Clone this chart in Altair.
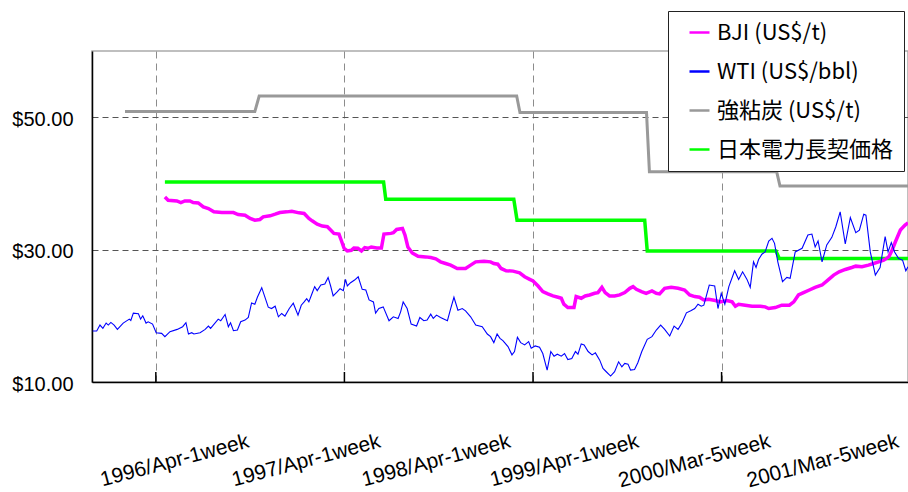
import altair as alt
import pandas as pd

# ---- data (weeks counted from the first WTI observation, late 1995) ----
wti_week = [0.2, 1.3, 2.2, 3.0, 3.9, 4.5, 5.2, 6.1, 7.0, 8.6, 10.3, 10.7, 11.4, 12.8, 13.4, 14.0, 14.9, 15.5, 16.7, 17.7,
            19.2, 20.1, 21.5, 23.5, 25.0, 25.9, 26.6, 27.5, 28.1, 29.8, 31.2, 32.1, 32.7, 34.8, 35.5, 36.7, 37.6, 38.2, 39.0, 40.1,
            41.0, 42.2, 43.1, 44.0, 44.9, 45.6, 46.8, 48.6, 49.5, 50.5, 51.4, 52.3, 53.2, 54.4, 55.5, 56.8, 57.7, 58.5, 59.2, 59.8,
            60.7, 61.4, 62.1, 63.1, 64.2, 65.1, 65.8, 66.5, 67.6, 68.4, 69.3, 69.9, 70.4, 71.3, 72.4, 73.4, 74.5, 75.5, 76.4, 77.6,
            78.2, 79.1, 80.3, 81.9, 83.1, 84.4, 85.1, 85.8, 86.9, 88.0, 89.5, 90.4, 91.5, 92.4, 93.4, 94.1, 95.0, 96.1, 98.0, 98.9,
            99.8, 100.9, 102.1, 103.0, 104.4, 105.8, 107.6, 109.0, 109.9, 110.8, 111.7, 112.5, 113.3, 114.7, 115.8, 116.5, 117.3, 118.2, 119.3, 120.4,
            121.1, 122.2, 123.4, 124.3, 125.5, 126.5, 127.4, 128.3, 129.4, 130.3, 131.2, 132.3, 133.3, 134.0, 134.9, 135.7, 136.8, 137.9, 138.8, 140.0,
            140.9, 141.8, 143.0, 144.1, 145.2, 146.1, 146.9, 147.8, 148.5, 149.6, 150.5, 151.6, 153.1, 154.4, 155.6, 156.8, 157.9, 159.3, 160.5, 161.6,
            162.7, 163.9, 165.1, 166.2, 167.1, 168.0, 168.7, 169.1, 170.2, 171.7, 172.6, 173.5, 174.5, 175.6, 177.2, 178.3, 179.4, 180.6, 181.5, 182.4,
            183.1, 183.8, 184.7, 185.6, 186.6, 187.5, 188.2, 189.1, 190.4, 191.6, 192.5, 193.9, 195.8, 197.4, 198.5, 199.4, 200.2, 201.3, 202.6, 204.0,
            205.1, 206.3, 207.7, 209.1, 210.6, 211.6, 212.8, 213.4, 214.6, 216.0, 217.3, 218.7, 219.5, 220.4, 221.3, 222.4, 223.5, 224.4, 225.0]
wti_value = [17.7, 17.7, 18.6, 18.1, 18.9, 18.6, 19.0, 18.6, 17.95, 18.9, 19.5, 19.3, 20.4, 20.3, 19.5, 20.0, 18.9, 19.1, 18.75, 17.45,
             17.35, 16.85, 17.6, 17.95, 18.35, 18.95, 17.25, 17.45, 17.25, 17.45, 17.95, 18.45, 18.1, 19.5, 19.25, 20.2, 18.35, 18.95, 17.75, 17.85,
             19.1, 19.35, 19.75, 21.95, 21.75, 22.8, 24.25, 21.3, 21.1, 21.45, 19.85, 20.35, 19.95, 21.1, 21.9, 20.1, 21.6, 22.1, 22.6, 22.1,
             23.4, 24.4, 23.8, 24.65, 24.8, 25.8, 24.5, 23.0, 23.6, 24.1, 23.8, 25.5, 24.5, 25.0, 25.4, 25.9, 24.0, 23.9, 22.4, 22.1,
             20.4, 21.1, 21.35, 19.25, 19.85, 19.6, 20.6, 22.1, 21.1, 18.75, 18.45, 19.75, 19.25, 19.35, 20.25, 19.6, 20.1, 19.75, 19.25, 21.1,
             22.8, 20.85, 21.1, 20.75, 19.85, 18.6, 18.35, 17.25, 16.85, 15.95, 17.25, 16.6, 16.25, 15.35, 14.1, 14.6, 16.75, 15.95, 15.6, 16.1,
             15.1, 15.45, 15.25, 14.3, 11.8, 14.6, 13.9, 14.2, 13.9, 14.3, 13.4, 13.55, 14.6, 14.2, 15.75, 15.6, 14.6, 14.1, 14.4, 13.3,
             12.05, 11.55, 10.9, 11.55, 13.05, 12.3, 12.8, 12.7, 11.8, 11.9, 12.9, 14.6, 16.45, 16.85, 17.85, 18.6, 17.95, 16.95, 18.45, 17.95,
             18.95, 20.45, 20.75, 21.1, 21.75, 21.45, 21.6, 22.4, 24.65, 24.5, 21.1, 23.4, 21.75, 24.4, 26.8, 25.5, 26.65, 25.5, 24.3, 28.15,
             27.3, 28.5, 29.3, 29.65, 31.3, 31.7, 30.95, 28.15, 25.15, 25.8, 25.65, 29.65, 30.2, 32.2, 32.35, 30.4, 31.3, 28.15, 30.7, 31.85,
             33.45, 35.7, 30.85, 34.85, 32.55, 32.95, 35.35, 35.2, 29.65, 26.15, 27.3, 31.95, 29.65, 31.05, 29.65, 28.65, 28.4, 26.8, 27.4]

bji_week = [20.1, 21.0, 23.4, 24.5, 25.6, 27.0, 27.9, 29.3, 30.7, 32.1, 33.6, 35.8, 39.0, 40.3, 42.2, 43.6, 44.9, 46.3, 47.2, 49.1,
            50.5, 51.8, 53.7, 55.1, 57.1, 58.5, 59.8, 60.7, 62.1, 63.5, 64.9, 65.8, 66.7, 68.1, 68.7, 69.5, 70.4, 71.5, 72.2, 73.3,
            74.3, 75.2, 76.1, 77.0, 78.5, 79.8, 80.5, 82.4, 83.1, 84.0, 85.6, 86.3, 87.1, 88.3, 89.9, 92.0, 93.4, 94.8, 96.1, 97.5,
            98.9, 100.7, 103.0, 104.4, 105.8, 108.1, 109.9, 110.8, 111.9, 112.8, 114.2, 116.1, 117.9, 119.3, 120.7, 121.6, 123.0, 124.3, 125.7, 127.1,
            128.5, 129.4, 130.1, 131.2, 132.9, 133.5, 134.9, 136.0, 137.2, 138.6, 139.5, 140.6, 141.5, 142.7, 144.1, 145.5, 146.9, 148.3, 149.2, 150.1,
            151.5, 152.8, 154.4, 155.6, 156.5, 157.9, 159.7, 161.6, 163.4, 164.8, 166.2, 167.5, 168.7, 170.0, 171.9, 173.2, 175.1, 176.5, 177.4, 178.3,
            180.1, 182.0, 184.3, 185.6, 186.6, 188.4, 190.2, 192.3, 193.5, 194.8, 196.2, 197.8, 199.4, 201.3, 202.9, 204.5, 206.0, 207.7, 209.5, 210.6,
            212.3, 214.1, 215.5, 216.9, 218.3, 219.7, 220.6, 221.5, 222.9, 224.2, 225.0]
bji_value = [37.95, 37.45, 37.35, 37.1, 37.35, 37.35, 37.1, 37.05, 36.45, 36.2, 35.7, 35.6, 35.6, 35.3, 35.2, 34.7, 34.45, 34.55, 34.95, 35.1,
             35.35, 35.6, 35.7, 35.8, 35.55, 35.45, 34.7, 34.35, 33.85, 33.55, 33.45, 32.95, 32.45, 32.35, 31.45, 30.2, 29.8, 29.9, 30.25, 30.2,
             29.8, 30.3, 30.2, 30.4, 30.25, 30.25, 32.35, 32.45, 32.55, 33.05, 33.2, 32.2, 30.4, 29.5, 29.0, 28.9, 28.8, 28.6, 28.15, 27.9,
             27.65, 27.15, 27.15, 27.65, 28.15, 28.25, 28.15, 27.9, 27.8, 27.15, 26.8, 26.75, 26.5, 25.9, 25.5, 25.25, 24.5, 23.65, 23.3, 23.0,
             22.8, 22.65, 21.75, 21.25, 21.25, 22.9, 22.65, 23.0, 23.15, 23.4, 23.5, 24.3, 23.5, 23.0, 23.0, 23.15, 23.5, 24.15, 24.4, 24.0,
             23.65, 23.4, 23.75, 23.4, 23.3, 24.15, 24.3, 24.15, 23.9, 23.15, 22.9, 22.8, 22.4, 22.5, 22.3, 22.1, 22.3, 22.1, 21.45, 21.75,
             21.6, 21.45, 21.45, 21.35, 21.1, 21.25, 21.6, 21.6, 22.1, 23.15, 23.5, 23.9, 24.3, 24.65, 25.4, 26.15, 26.65, 27.0, 27.3, 27.5,
             27.4, 27.65, 27.9, 28.15, 28.4, 28.9, 29.9, 31.15, 32.95, 33.7, 34.05]

coal_week = [9.1, 44.9, 46.1, 117.1, 118.0, 152.9, 153.7, 188.8, 189.7, 225.0]
coal_value = [50.85, 50.85, 53.2, 53.2, 50.7, 50.7, 41.75, 41.75, 39.6, 39.6]

power_week = [20.1, 80.4, 81.0, 116.3, 117.2, 152.4, 153.1, 188.6, 189.5, 225.0]
power_value = [40.2, 40.2, 37.6, 37.6, 34.45, 34.45, 29.8, 29.8, 28.65, 28.65]

series_names = ["BJI (US$/t)", "WTI (US$/bbl)", "強粘炭 (US$/t)", "日本電力長契価格"]
series_colors = ["#ff00ff", "#0000ff", "#999999", "#00ff00"]

grid_weeks = [17.6, 69.6, 121.6, 173.6]
label_weeks = [43.6, 79.9, 115.7, 151.1, 187.4, 222.8]
label_texts = ["1996/Apr-1week", "1997/Apr-1week", "1998/Apr-1week",
               "1999/Apr-1week", "2000/Mar-5week", "2001/Mar-5week"]

y_ticks = [10, 30, 50]

# ---- build tables ----
frames = []
for name, wk, val in [(series_names[0], bji_week, bji_value),
                      (series_names[1], wti_week, wti_value),
                      (series_names[2], coal_week, coal_value),
                      (series_names[3], power_week, power_value)]:
    frames.append(pd.DataFrame({"week": wk, "value": val, "series": name}))
df = pd.concat(frames, ignore_index=True)
ticks_df = pd.DataFrame({"week": grid_weeks})
labels_df = pd.DataFrame({"week": label_weeks, "label": label_texts})

LAT = "Liberation Sans, Arial, sans-serif"
W, H = 816, 331

xenc = alt.X("week:Q",
             scale=alt.Scale(domain=[0, 225], nice=False, zero=False),
             axis=alt.Axis(values=grid_weeks, labels=False, ticks=False, grid=True,
                           gridDash=[7, 5], gridColor="#8c8c8c", gridWidth=1,
                           domainColor="#000000", domainWidth=1.5, title=None))
yenc = alt.Y("value:Q",
             scale=alt.Scale(domain=[10, 60], nice=False, zero=False),
             axis=alt.Axis(values=y_ticks, format="$.2f", ticks=False, grid=True,
                           gridDash=[6, 4], gridColor="#555555", gridWidth=1,
                           domainColor="#000000", domainWidth=1.5,
                           labelFont=LAT, labelFontSize=20, labelColor="#000000",
                           labelPadding=19, labelOffset=2, labelFlush=False, title=None))

color_scale = alt.Scale(domain=series_names, range=series_colors)
legend = alt.Legend(orient="none", legendX=576, legendY=-40, title=None,
                    fillColor="#ffffff", strokeColor="#222222", padding=10,
                    symbolOffset=10, symbolType="stroke", symbolSize=400,
                    symbolStrokeWidth=2.5, labelFont="Noto Sans CJK JP",
                    labelFontSize=22, labelColor="#000000", labelOffset=6,
                    rowPadding=16, labelLimit=400, zindex=1)

base = alt.Chart(df)

def series_layer(name, width):
    return base.transform_filter(alt.datum.series == name).mark_line(
        clip=True, strokeWidth=width
    ).encode(
        x=xenc, y=yenc,
        color=alt.Color("series:N", scale=color_scale, legend=legend),
    )

coal_layer = series_layer(series_names[2], 3)
power_layer = series_layer(series_names[3], 3.5)
bji_layer = series_layer(series_names[0], 3.5)
wti_layer = series_layer(series_names[1], 1.1)

tick_layer = alt.Chart(ticks_df).mark_rule(color="#000000", strokeWidth=1.5).encode(
    x=xenc, y=alt.value(H - 10), y2=alt.value(H)
)

label_layer = alt.Chart(labels_df).mark_text(
    align="right", baseline="alphabetic", angle=345, font=LAT,
    fontSize=21, color="#000000"
).encode(x=xenc, y=alt.value(H + 65), text="label:N")

chart = alt.layer(coal_layer, power_layer, bji_layer, wti_layer, tick_layer, label_layer).properties(
    width=W, height=H,
    autosize=alt.AutoSizeParams(type="none"),
    padding={"left": 92, "top": 51, "right": 0, "bottom": 110},
).configure_view(stroke="#aaaaaa", strokeWidth=1.5)

chart.save("out.html", embed_options={"renderer": "svg", "actions": False})
